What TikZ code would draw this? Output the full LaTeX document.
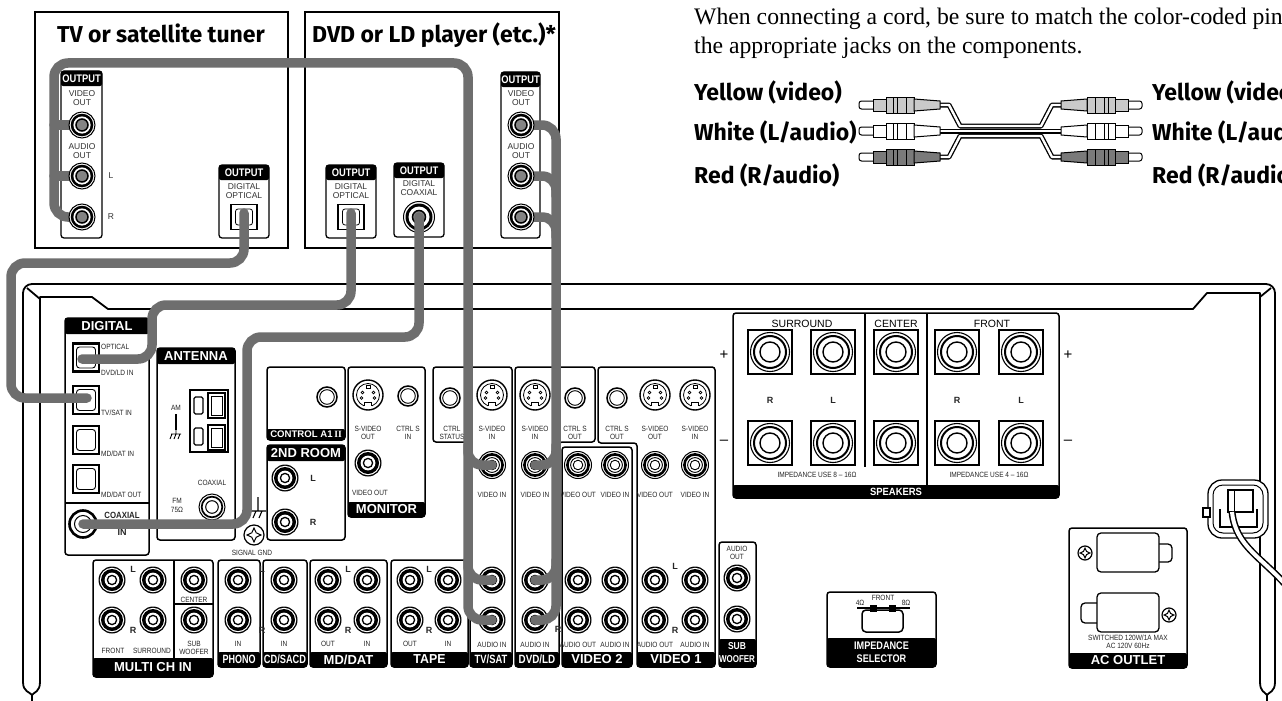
\documentclass[tikz,border=0pt]{standalone}
\usepackage{fontspec}
\usepackage{graphicx}
\setmainfont{Liberation Sans}
\newfontfamily\labfont[FakeStretch=0.86]{Liberation Sans}
\newfontfamily\titfont{Fira Sans}
\newfontfamily\serfont{Liberation Serif}
\definecolor{cablegray}{HTML}{6E6E6E}
\definecolor{plugyellow}{HTML}{CACACA}
\definecolor{plugred}{HTML}{7A7A7A}
\newcommand\barlab[3]{\scalebox{#2}[1]{\fontsize{#1}{#1}\selectfont\bfseries #3}}
\newcounter{lbc}
\newcommand\Lbl[4][]{\stepcounter{lbc}\node[lab,#1] (l\arabic{lbc}) at (#2,#3) {#4};}
\newcommand\Clbl[4][]{\stepcounter{lbc}\node[clab,#1] (l\arabic{lbc}) at (#2,#3) {#4};}
\newcommand\Blbl[4][]{\stepcounter{lbc}\node[blab,#1] (l\arabic{lbc}) at (#2,#3) {#4};}
\newcommand\BarBox[5]{\stepcounter{lbc}\fill[barfill] (#1,#2) rectangle (#3,#4);
  \node[bartext] (b\arabic{lbc}) at ({(#1+#3)/2},{(#2+#4)/2}) {#5};}
\newcommand\plug[2]{%
  \draw[line width=1pt, fill=white, rounded corners=2.5pt] (859,{#1-4}) rectangle (877,{#1+4});
  \draw[line width=1pt, fill=#2] (873,{#1-6}) rectangle (886,{#1+6});
  \draw[line width=1pt, fill=#2] (886,{#1-8}) rectangle (914,{#1+8});
  \draw[line width=0.8pt] (893,{#1-8}) -- (893,{#1+8}) (897,{#1-8}) -- (897,{#1+8}) (906,{#1-8}) -- (906,{#1+8});
  \draw[line width=1pt, fill=#2] (914,{#1-6}) -- (940,{#1-4}) -- (940,{#1+4}) -- (914,{#1+6}) -- cycle;}
\newcommand\screw[3]{% x y r
  \draw[line width=1.2pt, fill=white] (#1,#2) circle (#3 pt);
  \draw[line width=1pt] (#1,{#2-0.7*#3}) -- ({#1+0.22*#3},{#2-0.22*#3}) -- ({#1+0.7*#3},#2) -- ({#1+0.22*#3},{#2+0.22*#3}) -- (#1,{#2+0.7*#3}) -- ({#1-0.22*#3},{#2+0.22*#3}) -- ({#1-0.7*#3},#2) -- ({#1-0.22*#3},{#2-0.22*#3}) -- cycle;}
\tikzset{
 frame/.style={line width=1.8pt, line join=round},
 panel/.style={draw, line width=1.5pt, rounded corners=3pt, fill=white},
 barfill/.style={fill=black, rounded corners=2pt},
 bartext/.style={text=white, inner sep=0pt},
 lab/.style={font=\labfont\fontsize{7.6}{8.6}\selectfont, inner sep=0pt, align=center, text=black!85},
 clab/.style={font=\fontsize{8.5}{9}\selectfont, inner sep=0pt, align=center, text=black!80},
 blab/.style={font=\bfseries\fontsize{9}{9}\selectfont, inner sep=0pt, text=black!85},
 title/.style={font=\titfont\bfseries\fontsize{23}{26}\selectfont, inner sep=0pt},
 cable/.style={draw=cablegray, line width=9.5pt, line cap=round, rounded corners=14pt},
 cordout/.style={draw=black, line width=5pt, line join=round},
 cordin/.style={draw=white, line width=2.4pt, line join=round},
 rca/.pic={
   \fill[black] (0,0) circle (13.5pt);
   \fill[white] (0,0) circle (12.2pt);
   \fill[black] (0,0) circle (11pt);
   \fill[white] (0,0) circle (7.4pt);
   \draw[line width=1.3pt] (0,0) circle (4.6pt);},
 vjack/.pic={
   \draw[line width=1pt,fill=white] (0,0) circle (13.5pt);
   \draw[line width=2.6pt] (0,0) circle (10.6pt);
   \draw[line width=0.9pt] (0,0) circle (7.4pt);
   \draw[line width=0.9pt] (0,0) circle (4.8pt);},
 ojack/.pic={
   \draw[line width=1pt,fill=white] (0,0) circle (13pt);
   \fill[black] (0,0) circle (11.3pt);
   \fill[white] (0,0) circle (8.6pt);
   \draw[line width=1.5pt,fill=cablegray!85] (0,0) circle (6pt);},
 minijack/.pic={
   \draw[line width=1.5pt,fill=white] (0,0) circle (10pt);
   \draw[line width=0.9pt] (0,0) circle (7.3pt);},
 svid/.pic={
   \draw[line width=1.4pt,fill=white] (0,0) circle (15pt);
   \draw[line width=0.8pt] (0,0) circle (11.5pt);
   \fill[white] (-3.6,7) rectangle (3.6,13);
   \draw[line width=0.8pt] (-3.6,10.9) -- (-3.6,7.2) -- (3.6,7.2) -- (3.6,10.9);
   \draw[line width=0.7pt] (-2,-9.8) rectangle (2,-6.3);
   \foreach \p in {(-5.5,-2.5),(5.5,-2.5),(-6.5,3),(6.5,3)} \draw[line width=0.7pt] \p circle (1.4pt);},
 spk/.pic={
   \draw[line width=1.4pt,fill=white] (-22,-22) rectangle (22,22);
   \draw[line width=1.1pt] (0,0) circle (19.5pt);
   \draw[line width=2pt] (0,0) circle (16pt);
   \draw[line width=1.4pt] (0,0) circle (10pt);},
 optsq/.pic={
   \draw[line width=2.8pt,fill=white] (-13,-14) rectangle (13,14);
   \draw[line width=0.9pt,rounded corners=3pt] (-9.5,-10.5) rectangle (9.5,10.5);},
 optout/.pic={
   \draw[line width=1.3pt,fill=white] (-13,-12.5) rectangle (13,12.5);
   \draw[line width=0.8pt,rounded corners=2.5pt] (-8.5,-8) rectangle (8.5,8);},
}
\begin{document}
\begin{tikzpicture}[x=1pt,y=-1pt]
\useasboundingbox (0,0) rectangle (1282,701);
\clip (0,0) rectangle (1282,701);
\fill[white] (0,0) rectangle (1282,701);

% ---------------- receiver frame
\draw[frame, rounded corners=9pt] (23,682) -- (23,284) -- (1275,284) -- (1275,682);
\draw[frame] (23,682) .. controls (23,692) and (30,692) .. (32,695) -- (32,701);
\draw[frame] (40,682) .. controls (40,692) and (34,692) .. (32,695);
\draw[frame] (1275,682) .. controls (1275,692) and (1269,692) .. (1267,695) -- (1267,701);
\draw[frame] (1260,682) .. controls (1260,692) and (1265,692) .. (1267,695);
\draw[frame] (40,682) -- (40,297) -- (92,297) -- (108,309) -- (1193,309) -- (1207,293) -- (1260,293) -- (1260,682);
\draw[frame] (27,288) -- (40,299);
\draw[frame] (1271,288) -- (1260,297);

% ---------------- DIGITAL
\draw[panel] (65,318) rectangle (149,555);
\BarBox{65}{318}{149}{334}{\barlab{13}{1}{DIGITAL}}
\draw[line width=1.5pt] (65,503) -- (149,503);
\pic at (86,357.5) {optsq};
\pic at (86,400) {optsq};
\pic at (86,440) {optsq};
\pic at (86,479) {optsq};
\Lbl[anchor=west]{101}{347}{OPTICAL}
\Lbl[anchor=west]{101}{373}{DVD/LD IN}
\Lbl[anchor=west]{101}{413}{TV/SAT IN}
\Lbl[anchor=west]{101}{454}{MD/DAT IN}
\Lbl[anchor=west]{101}{495}{MD/DAT OUT}
\draw[line width=2.6pt,fill=white] (83,524) circle (13.5pt);
\draw[line width=1pt] (83,524) circle (8.5pt);
\Blbl{122}{515}{\scalebox{0.87}[1]{COAXIAL}}
\Blbl{122}{532}{IN}

% ---------------- ANTENNA
\draw[panel] (157,348) rectangle (235,540);
\BarBox{157}{348}{235}{364}{\barlab{13}{1}{ANTENNA}}
\draw[line width=1.5pt] (190,390) rectangle (228,452);
\draw[line width=1.4pt, rounded corners=1.5pt] (194,397) rectangle (203,414);
\draw[line width=1.4pt] (208,393) rectangle (225,418);
\draw[line width=0.8pt] (211,396) rectangle (222,415);
\draw[line width=1.4pt, rounded corners=1.5pt] (194,428) rectangle (203,445);
\draw[line width=1.4pt] (208,425) rectangle (225,450);
\draw[line width=0.8pt] (211,428) rectangle (222,447);
\Lbl{176}{408}{AM}
\draw[line width=1.3pt] (176,414) -- (176,430);
\draw[line width=0.9pt] (176,430) -- (176,434) (171,434) -- (181,434) (172,434) -- (170,439) (176,434) -- (174,439) (180,434) -- (178,439);
\Lbl{212}{483}{COAXIAL}
\draw[line width=1pt,fill=white] (212,507) circle (13pt);
\draw[line width=1.7pt] (212,507) circle (10.3pt);
\draw[line width=1pt] (212,507) circle (6.3pt);
\Lbl{177}{501}{FM}
\Lbl{177}{510}{75Ω}
% ground + screw
\draw[line width=1.1pt] (258,497) -- (258,511) (246,511) -- (266,511) (250,511) -- (247,518) (256,511) -- (253,518) (262,511) -- (259,518);
\screw{254}{535}{10}
\Lbl{252}{553}{SIGNAL GND}

% ---------------- CONTROL A1 II / 2ND ROOM / MONITOR
\draw[panel] (267,367) rectangle (345,440);
\BarBox{267}{429}{345}{440}{\barlab{9.6}{1}{CONTROL A1\,{\serfont II}}}
\pic at (327,397) {minijack};
\draw[panel] (267,445) rectangle (345,540);
\BarBox{267}{445}{345}{461}{\barlab{13}{1}{2ND ROOM}}
\pic at (285,478) {rca};
\pic at (285,522) {rca};
\Blbl{313}{478}{L}
\Blbl{313}{522}{R}
\draw[panel] (348,367) rectangle (425,517);
\BarBox{348}{502}{425}{517}{\barlab{13}{1}{MONITOR}}
\pic at (368,395) {svid};
\pic at (408,396) {minijack};
\Lbl{368}{433}{S-VIDEO\\OUT}
\Lbl{408}{433}{CTRL S\\IN}
\pic at (368,463) {rca};
\Lbl{370}{493}{VIDEO OUT}

% ---------------- TV/SAT column
\draw[panel] (470,667) -- (470,442) -- (433,442) -- (433,367) -- (512,367) -- (512,667) -- cycle;
\pic at (450,398) {minijack};
\Lbl{452}{433}{CTRL\\STATUS}
\pic at (492,395) {svid};
\Lbl{492}{433}{S-VIDEO\\IN}
\pic at (492,465) {vjack};
\Lbl{492}{495}{VIDEO IN}
\pic at (492,580) {rca};
\pic at (492,620) {rca};
\Lbl{492}{645}{AUDIO IN}
\BarBox{470}{652}{512}{667}{\barlab{12}{0.78}{TV/SAT}}

% ---------------- DVD/LD column
\draw[panel] (515,667) -- (515,367) -- (595,367) -- (595,442) -- (559,442) -- (559,667) -- cycle;
\pic at (535,395) {svid};
\Lbl{535}{433}{S-VIDEO\\IN}
\pic at (575,398) {minijack};
\Lbl{575}{433}{CTRL S\\OUT}
\pic at (535,465) {vjack};
\Lbl{535}{495}{VIDEO IN}
\pic at (535,580) {rca};
\pic at (535,620) {rca};
\Lbl{535}{645}{AUDIO IN}
\Blbl{558}{629}{R}
\BarBox{515}{652}{559}{667}{\barlab{12}{0.82}{DVD/LD}}

% ---------------- VIDEO 2
\draw[panel] (562,447) rectangle (632,667);
\pic at (578,465) {vjack};
\pic at (615,465) {vjack};
\Lbl{578}{495}{VIDEO OUT}
\Lbl{615}{495}{VIDEO IN}
\pic at (578,580) {rca};
\pic at (615,580) {rca};
\pic at (578,620) {rca};
\pic at (615,620) {rca};
\Lbl{578}{645}{AUDIO OUT}
\Lbl{615}{645}{AUDIO IN}
\BarBox{562}{652}{632}{667}{\barlab{13}{1}{VIDEO 2}}

% ---------------- VIDEO 1
\draw[panel] (637,667) -- (637,443) -- (598,443) -- (598,367) -- (715,367) -- (715,667) -- cycle;
\pic at (617,398) {minijack};
\pic at (655,395) {svid};
\pic at (695,395) {svid};
\Lbl{617}{433}{CTRL S\\OUT}
\Lbl{655}{433}{S-VIDEO\\OUT}
\Lbl{695}{433}{S-VIDEO\\IN}
\pic at (655,465) {vjack};
\pic at (695,465) {vjack};
\Lbl{655}{495}{VIDEO OUT}
\Lbl{695}{495}{VIDEO IN}
\pic at (655,580) {rca};
\pic at (695,580) {rca};
\pic at (655,620) {rca};
\pic at (695,620) {rca};
\Blbl{675}{566}{L}
\Blbl{675}{630}{R}
\Lbl{655}{645}{AUDIO OUT}
\Lbl{695}{645}{AUDIO IN}
\BarBox{637}{652}{715}{667}{\barlab{13}{1}{VIDEO 1}}

% ---------------- SUB WOOFER
\draw[panel] (719,542) rectangle (756,667);
\Lbl{737}{553}{AUDIO\\OUT}
\pic at (737,578) {rca};
\pic at (737,619) {rca};
\BarBox{719}{639}{756}{667}{}
\node[bartext] (sw1) at (737,646) {\barlab{10}{0.85}{SUB}};
\node[bartext] (sw2) at (737,659) {\barlab{10}{0.8}{WOOFER}};

% ---------------- bottom row left
\draw[panel] (93,560) rectangle (213,677);
\BarBox{93}{658}{213}{677}{\barlab{13}{1}{MULTI CH IN}}
\draw[line width=1.5pt] (174,560) -- (174,658) (174,604) -- (213,604);
\pic at (112,580) {rca};
\pic at (153,580) {rca};
\pic at (112,620) {rca};
\pic at (153,620) {rca};
\pic at (194,580) {rca};
\pic at (194,620) {rca};
\Blbl{133}{569}{L}
\Blbl{133}{630}{R}
\Lbl{113}{651}{FRONT}
\Lbl{152}{651}{SURROUND}
\Lbl{194}{600}{CENTER}
\Lbl{194}{648}{SUB\\WOOFER}

\draw[panel] (218,560) rectangle (260,667);
\BarBox{218}{652}{260}{667}{\barlab{12}{0.75}{PHONO}}
\pic at (238,580) {rca};
\pic at (238,620) {rca};
\Lbl{238}{644}{IN}
\draw[panel] (263,560) rectangle (307,667);
\BarBox{263}{652}{307}{667}{\barlab{12}{0.77}{CD/SACD}}
\pic at (284,580) {rca};
\pic at (284,620) {rca};
\Lbl{284}{644}{IN}
\Blbl{262}{569}{L}
\Blbl{262}{630}{R}
\draw[panel] (310,560) rectangle (387,667);
\BarBox{310}{652}{387}{667}{\barlab{13}{1}{MD/DAT}}
\pic at (328,580) {rca};
\pic at (367,580) {rca};
\pic at (328,620) {rca};
\pic at (367,620) {rca};
\Blbl{348}{569}{L}
\Blbl{348}{630}{R}
\Lbl{328}{644}{OUT}
\Lbl{367}{644}{IN}
\draw[panel] (391,560) rectangle (468,667);
\BarBox{391}{652}{468}{667}{\barlab{13}{0.95}{TAPE}}
\pic at (410,580) {rca};
\pic at (448,580) {rca};
\pic at (410,620) {rca};
\pic at (448,620) {rca};
\Blbl{429}{569}{L}
\Blbl{429}{630}{R}
\Lbl{410}{644}{OUT}
\Lbl{448}{644}{IN}

% ---------------- SPEAKERS
\draw[panel] (733,313) rectangle (1059,498);
\BarBox{733}{485}{1059}{498}{\barlab{10.5}{0.9}{SPEAKERS}}
\draw[line width=1.3pt] (865,313) -- (865,467) (927,313) -- (927,485);
\foreach \sx in {770,833,896,957,1021} {\pic at (\sx,352) {spk}; \pic at (\sx,443) {spk};}
\node[font=\fontsize{10.5}{11}\selectfont, inner sep=0pt] (sur) at (802,324) {SURROUND};
\node[font=\fontsize{10.5}{11}\selectfont, inner sep=0pt] (cen) at (896,324) {CENTER};
\node[font=\fontsize{10.5}{11}\selectfont, inner sep=0pt] (fro) at (992,324) {FRONT};
\Blbl{770}{400}{R}
\Blbl{833}{400}{L}
\Blbl{957}{400}{R}
\Blbl{1021}{400}{L}
\Lbl{817}{475}{IMPEDANCE USE 8 – 16Ω}
\Lbl{989}{475}{IMPEDANCE USE 4 – 16Ω}
\node[font=\fontsize{15}{15}\selectfont, inner sep=0pt] (p1) at (724,355) {+};
\node[font=\fontsize{15}{15}\selectfont, inner sep=0pt] (m1) at (724,442) {–};
\node[font=\fontsize{15}{15}\selectfont, inner sep=0pt] (p2) at (1068,355) {+};
\node[font=\fontsize{15}{15}\selectfont, inner sep=0pt] (m2) at (1068,442) {–};

% ---------------- IMPEDANCE SELECTOR
\draw[panel] (827,592) rectangle (936,667);
\BarBox{827}{638}{936}{667}{}
\node[bartext] (is1) at (881.5,646) {\barlab{11}{0.83}{IMPEDANCE}};
\node[bartext] (is2) at (881.5,659) {\barlab{11}{0.83}{SELECTOR}};
\Lbl{883}{598}{FRONT}
\Lbl{860}{603}{4Ω}
\Lbl{906}{603}{8Ω}
\draw[line width=1.2pt] (857,608) -- (910,608);
\draw[line width=1.5pt, rounded corners=4pt] (862,610) rectangle (903,632);
\fill (870,605) rectangle (877,612);
\fill (889,605) rectangle (896,612);

% ---------------- AC OUTLET
\draw[panel] (1069,528) rectangle (1187,668);
\BarBox{1069}{653}{1187}{668}{\barlab{13}{1}{AC OUTLET}}
\draw[line width=1.3pt, rounded corners=4pt, fill=white] (1154,544) rectangle (1172,562);
\draw[line width=1.3pt, rounded corners=4pt, fill=white] (1097,533) rectangle (1159,572);
\screw{1085}{553}{7}
\draw[line width=1.3pt, rounded corners=4pt, fill=white] (1081,603) rectangle (1101,623);
\draw[line width=1.3pt, rounded corners=4pt, fill=white] (1097,593) rectangle (1159,632);
\screw{1169}{615}{7}
\Lbl{1128}{638}{SWITCHED 120W/1A MAX}
\Lbl{1128}{646}{AC 120V 60Hz}

% ---------------- power cord clamp
\draw[line width=1.3pt, rounded corners=14pt, fill=white] (1208,480) rectangle (1268,538);
\draw[line width=1pt, rounded corners=10pt] (1213,485) rectangle (1263,533);
\draw[line width=1.2pt, fill=white] (1203,508) rectangle (1210,517);
\draw[line width=1.2pt] (1220,509) -- (1220,527) -- (1257,527) -- (1257,509);
\draw[line width=1.2pt, fill=white] (1228,490) rectangle (1253,512);
\draw[line width=1pt] (1234,490) -- (1234,512);
\draw[line width=7pt] (1232,512) .. controls (1236,548) and (1262,556) .. (1292,592);
\draw[white, line width=4pt] (1232,512) .. controls (1236,548) and (1262,556) .. (1292,592);

% ---------------- source components
\draw[line width=1.3pt] (35,12) rectangle (288,248);
\draw[line width=1.3pt] (305,12) rectangle (559,248);
\node[title, anchor=base] (tvt) at (161,43) {TV or satellite tuner};
\node[title, anchor=base] (dvdt) at (434,43) {DVD or LD player (etc.)*};
% TV A/V
\draw[panel, line width=1.3pt] (61,71) rectangle (102,238);
\BarBox{61}{71}{102}{86}{\barlab{11}{0.85}{OUTPUT}}
\Clbl{82}{98.5}{VIDEO\\OUT}
\Clbl{82}{151.5}{AUDIO\\OUT}
\Clbl{111}{176}{L}
\Clbl{111}{217}{R}
% TV optical
\draw[panel, line width=1.3pt] (219,165) rectangle (269,238);
\BarBox{219}{165}{269}{180}{\barlab{11}{0.85}{OUTPUT}}
\Clbl{244}{191.5}{DIGITAL\\OPTICAL}
\pic at (244,217) {optout};
% DVD optical
\draw[panel, line width=1.3pt] (326,165) rectangle (376,238);
\BarBox{326}{165}{376}{180}{\barlab{11}{0.85}{OUTPUT}}
\Clbl{351}{191.5}{DIGITAL\\OPTICAL}
\pic at (351,217) {optout};
% DVD coaxial
\draw[panel, line width=1.3pt] (394,163) rectangle (444,237);
\BarBox{394}{163}{444}{178}{\barlab{11}{0.85}{OUTPUT}}
\Clbl{419}{188.5}{DIGITAL\\COAXIAL}
\draw[line width=1pt,fill=white] (419,217) circle (15.5pt);
\fill (419,217) circle (13.5pt);
\fill[white] (419,217) circle (10.5pt);
\draw[line width=1.5pt,fill=cablegray!85] (419,217) circle (6.5pt);
% DVD A/V
\draw[panel, line width=1.3pt] (501,72) rectangle (540,238);
\BarBox{501}{72}{540}{87}{\barlab{11}{0.85}{OUTPUT}}
\Clbl{521}{98.5}{VIDEO\\OUT}
\Clbl{521}{151.5}{AUDIO\\OUT}
\Clbl{547}{176}{L}
\Clbl{547}{217}{R}

% ---------------- cables
\draw[cable] (82,217) -- (54,217) -- (54,63) -- (468,63) -- (468,620) -- (492,620);
\draw[cable] (82,125) -- (54,125);
\draw[cable] (82,176) -- (54,176);
\draw[cable] (468,445) -- (468,465) -- (492,465);
\draw[cable] (468,560) -- (468,580) -- (492,580);
\draw[cable] (521,125) -- (556,125) -- (556,620) -- (535,620);
\draw[cable] (521,176) -- (556,176) -- (556,196);
\draw[cable] (521,217) -- (556,217) -- (556,237);
\draw[cable] (556,445) -- (556,465) -- (535,465);
\draw[cable] (556,560) -- (556,580) -- (535,580);
\draw[cable] (244,213) -- (244,263) -- (11,263) -- (11,398) -- (87,398);
\draw[cable] (351,213) -- (351,305) -- (152,305) -- (152,359) -- (82,359);
\draw[cable] (419,217) -- (419,337) -- (247,337) -- (247,524) -- (83,524);

% component A/V jacks over the cables
\pic at (82,125) {ojack};
\pic at (82,176) {ojack};
\pic at (82,217) {ojack};
\pic at (521,125) {ojack};
\pic at (521,176) {ojack};
\pic at (521,217) {ojack};

% ---------------- note and cord picture
\node[font=\serfont\fontsize{23.7}{28}\selectfont, anchor=base west, inner sep=0pt] (note1) at (694,25) {When connecting a cord, be sure to match the color-coded pins};
\node[font=\serfont\fontsize{23.7}{28}\selectfont, anchor=base west, inner sep=0pt] (note2) at (694,53) {the appropriate jacks on the components.};
\node[title, anchor=base west] (ly) at (694,100) {Yellow (video)};
\node[title, anchor=base west] (lw) at (694,140) {White (L/audio)};
\node[title, anchor=base west] (lr) at (694,183) {Red (R/audio)};
\node[title, anchor=base west] (ry) at (1152,100) {Yellow (video)};
\node[title, anchor=base west] (rw) at (1152,140) {White (L/audio)};
\node[title, anchor=base west] (rr) at (1152,183) {Red (R/audio)};
\draw[cordout] (934,105) -- (949,105) -- (960,126) -- (1041,126) -- (1052,105) -- (1067,105);
\draw[cordout] (934,131) -- (1067,131);
\draw[cordout] (934,157) -- (949,157) -- (960,136) -- (1041,136) -- (1052,157) -- (1067,157);
\draw[cordin] (934,105) -- (949,105) -- (960,126) -- (1041,126) -- (1052,105) -- (1067,105);
\draw[cordin] (934,131) -- (1067,131);
\draw[cordin] (934,157) -- (949,157) -- (960,136) -- (1041,136) -- (1052,157) -- (1067,157);
\plug{105}{plugyellow}
\plug{131}{white}
\plug{157}{plugred}
\begin{scope}[xshift=2001pt, xscale=-1]
\plug{105}{plugyellow}
\plug{131}{white}
\plug{157}{plugred}
\end{scope}
\end{tikzpicture}
\end{document}
